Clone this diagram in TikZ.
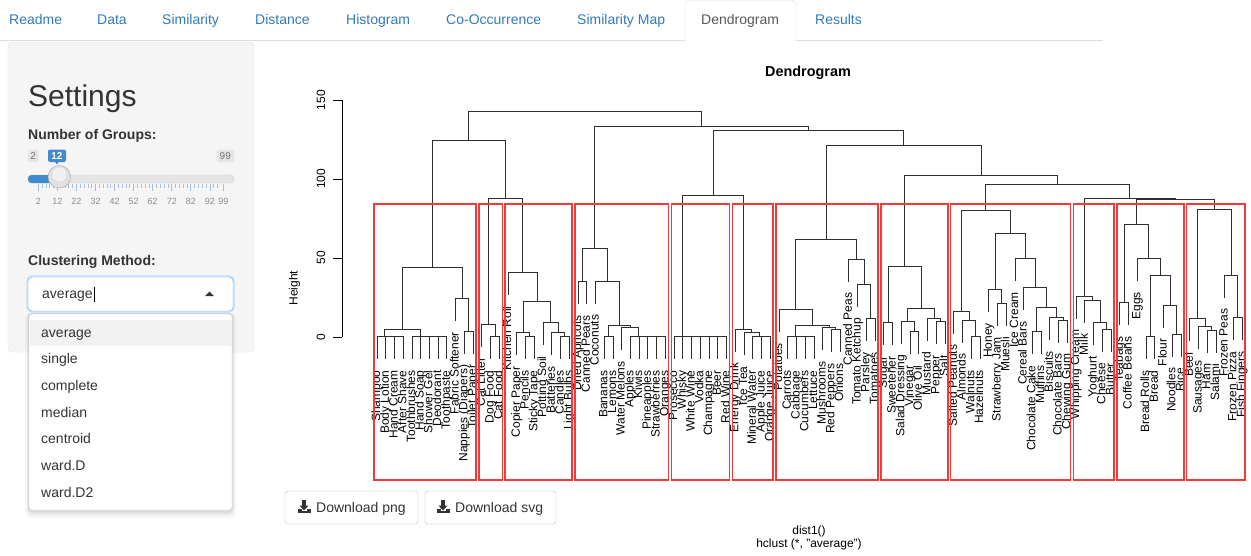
\documentclass[tikz,border=0pt]{standalone}
\usepackage{fontspec}
\setmainfont{Liberation Sans}
\definecolor{linkblue}{HTML}{337AB7}
\definecolor{navgray}{HTML}{DDDDDD}
\definecolor{wellbg}{HTML}{F5F5F5}
\definecolor{wellbd}{HTML}{E3E3E3}
\definecolor{txtc}{HTML}{333333}
\definecolor{sliderblue}{HTML}{428BCA}
\definecolor{focusblue}{HTML}{66AFE9}
\definecolor{rectred}{HTML}{F23A3A}
\definecolor{tickc}{HTML}{A9BCD6}
\newcommand\fsz[1]{\fontsize{#1}{#1}\selectfont}
\newif\ifisleaf
\newcommand\defleaf[2]{%
  \pgfmathsetmacro\tmpx{377+8.739*(#1-1)}%
  \expandafter\xdef\csname dX#1\endcsname{\tmpx}%
  \expandafter\gdef\csname dH#1\endcsname{-1}%
  \expandafter\gdef\csname dN#1\endcsname{#2}}
\newcommand\botof[3]{%
  \edef\tmph{\csname dH#1\endcsname}%
  \ifdim\tmph pt<0pt \isleaftrue\else\isleaffalse\fi
  \ifisleaf
    \pgfmathsetmacro#3{#2-14.3}%
    \edef\tmpxx{\csname dX#1\endcsname}%
    \node[leaflbl] at (\tmpxx,{336.7-1.578*(#3)+11}) {\csname dN#1\endcsname};%
  \else
    \let#3\tmph
  \fi}
\newcommand\mrg[4]{%
  \botof{#2}{#4}\bA
  \botof{#3}{#4}\bB
  \edef\xa{\csname dX#2\endcsname}%
  \edef\xb{\csname dX#3\endcsname}%
  \draw[dline] (\xa,{336.7-1.578*(\bA)}) |- (\xb,{336.7-1.578*(#4)}) -- (\xb,{336.7-1.578*(\bB)});
  \pgfmathsetmacro\tmpx{(\xa+\xb)/2}%
  \expandafter\xdef\csname dX#1\endcsname{\tmpx}%
  \expandafter\xdef\csname dH#1\endcsname{#4}}
\newcommand\dlicon[2]{%
  \fill[txtc] ({#1-1.6},{#2-7}) rectangle ({#1+1.6},{#2-1});
  \fill[txtc] ({#1-4.6},{#2-1.5}) -- ({#1+4.6},{#2-1.5}) -- (#1,{#2+3.5}) -- cycle;
  \fill[txtc] ({#1-6.5},{#2+2}) rectangle ({#1-2.5},{#2+5.5});
  \fill[txtc] ({#1+2.5},{#2+2}) rectangle ({#1+6.5},{#2+5.5});
  \fill[txtc] ({#1-6.5},{#2+4}) rectangle ({#1+6.5},{#2+5.5});}
\begin{document}
\begin{tikzpicture}[x=1pt,y=-1pt,
  dline/.style={draw=black!82, line width=0.9pt},
  leaflbl/.style={rotate=90, anchor=east, inner sep=0pt, font=\fsz{12}, text height=8.6pt, text depth=2.5pt},
  rbox/.style={draw=rectred, line width=1.3pt},
  ui/.style={inner sep=0pt, anchor=base west, font=\fsz{14}, text=txtc},
  tab/.style={inner sep=0pt, anchor=base west, font=\fsz{14}, text=linkblue},
  rlab/.style={inner sep=0pt, font=\fsz{12}}]
\fill[white] (0,0) rectangle (1251,555);
\useasboundingbox (0,0) rectangle (1251,555);
% ---------- tabs
\draw[navgray] (0,40.5) -- (685,40.5);
\draw[navgray] (796,40.5) -- (1103,40.5);
\draw[navgray, fill=white, rounded corners=4pt] (685,40.5) -- (685,0.5) -- (796,0.5) -- (796,40.5);
\node[tab] (t1) at (9,24) {Readme};
\node[tab] (t2) at (97,24) {Data};
\node[tab] (t3) at (162,24) {Similarity};
\node[tab] (t4) at (255,24) {Distance};
\node[tab] (t5) at (346,24) {Histogram};
\node[tab] (t6) at (446,24) {Co-Occurrence};
\node[tab] (t7) at (577,24) {Similarity Map};
\node[tab, text=black!65] (t8) at (701,24) {Dendrogram};
\node[tab] (t9) at (815,24) {Results};
% ---------- settings well
\draw[wellbd, fill=wellbg, rounded corners=4pt] (8,42) rectangle (254,352);
\node[ui, font=\fsz{30}] (set) at (28,106.5) {Settings};
\node[ui, font=\bfseries\fsz{14}] (nog) at (28,139.5) {Number of Groups:};
% slider labels
\fill[black!10, rounded corners=2pt] (28,149.5) rectangle (38.5,162);
\node[inner sep=0pt, font=\fsz{10}, text=black!55] (smin) at (33.2,156) {2};
\fill[sliderblue, rounded corners=2pt] (48,149.5) rectangle (66,162);
\fill[sliderblue] (55,161.5) -- (59,161.5) -- (57,164.5) -- cycle;
\node[inner sep=0pt, font=\bfseries\fsz{10}, text=white] (scur) at (57,156) {12};
\fill[black!10, rounded corners=2pt] (216.5,149.5) rectangle (234,162);
\node[inner sep=0pt, font=\fsz{10}, text=black!55] (smax) at (225.3,156) {99};
% track
\draw[black!20, fill=black!10, rounded corners=3.5pt] (28,175) rectangle (234,183);
\fill[sliderblue, rounded corners=3.5pt] (28,175) rectangle (60,183);
% grid
\foreach \v in {2,12,22,32,42,52,62,72,82,92,99}{
  \draw[tickc, line width=0.8pt] ({38.3+(\v-2)*1.907},183.5) -- ++(0,7.5);
  \node[inner sep=0pt, font=\fsz{9}, text=black!45] at ({38.3+(\v-2)*1.907},201.5) {\v};}
\foreach \m in {2,12,22,32,42,52,62,72,82}{
  \foreach \k in {2,4,6,8}{
    \draw[tickc, line width=0.7pt] ({38.3+(\m+\k-2)*1.907},183.5) -- ++(0,4);}}
\foreach \v in {94,96}{\draw[tickc, line width=0.7pt] ({38.3+(\v-2)*1.907},183.5) -- ++(0,4);}
% handle
\draw[black!35, fill=black!12] (59.3,176.8) circle (11.3);
\fill[black!6] (59.3,174.5) circle (7);
\node[ui, font=\bfseries\fsz{14}] (cm) at (28,265) {Clustering Method:};
% select box
\draw[focusblue!35, line width=3.5pt, rounded corners=4pt] (28,277) rectangle (233,311);
\draw[focusblue, fill=white, rounded corners=4pt] (28,277) rectangle (233,311);
\node[ui] (selv) at (42,298.5) {average};
\draw[black, line width=0.6pt] (93.8,286.5) -- (93.8,302);
\fill[txtc] (205,296) -- (214,296) -- (209.5,291.5) -- cycle;
% dropdown
\fill[black, opacity=0.04, rounded corners=6pt] (25,313) rectangle (236,518);
\fill[black, opacity=0.05, rounded corners=5pt] (27,313) rectangle (234,515);
\fill[black, opacity=0.06, rounded corners=4pt] (28,313) rectangle (233,512.5);
\draw[black!18, fill=white, rounded corners=3pt] (29,314) rectangle (232,510);
\fill[black!5] (29.5,319.5) rectangle (231.5,346);
\node[ui] (o1) at (41,337) {average};
\node[ui] (o2) at (41,363.7) {single};
\node[ui] (o3) at (41,390.3) {complete};
\node[ui] (o4) at (41,417) {median};
\node[ui] (o5) at (41,443.7) {centroid};
\node[ui] (o6) at (41,470.3) {ward.D};
\node[ui] (o7) at (41,497) {ward.D2};
% ---------- buttons
\draw[black!25, fill=white, rounded corners=3pt] (285,491) rectangle (418,524);
\dlicon{304}{507}
\node[ui] (b1) at (316,512.5) {Download png};
\draw[black!25, fill=white, rounded corners=3pt] (425,491) rectangle (556,524);
\dlicon{443}{507}
\node[ui] (b2) at (455,512.5) {Download svg};
% ---------- plot texts
\node[inner sep=0pt, anchor=base, font=\bfseries\fsz{14.4}] (title) at (808,76) {Dendrogram};
\node[rlab, anchor=base] (xl1) at (809,534) {dist1()};
\node[rlab, anchor=base] (xl2) at (809,547.5) {hclust (*, "average")};
\node[rlab, rotate=90] (ylab) at (294.5,288) {Height};
\draw[black] (341.7,100) -- (341.7,336.7);
\foreach \v in {0,50,100,150}{
  \draw[black] (341.7,{336.7-1.578*\v}) -- (333.3,{336.7-1.578*\v});
  \node[rlab, rotate=90] at (321,{336.7-1.578*\v}) {\v};}
% ---------- leaves
\defleaf{1}{Shampoo}\defleaf{2}{Body Lotion}\defleaf{3}{Hand Cream}\defleaf{4}{After Shave}
\defleaf{5}{Toothbrushes}\defleaf{6}{Hand Soap}\defleaf{7}{Shower Gel}\defleaf{8}{Deodorant}
\defleaf{9}{Toothpaste}\defleaf{10}{Fabric Softener}\defleaf{11}{Nappies (Diapers)}\defleaf{12}{Toilet Paper}
\defleaf{13}{Cat Litter}\defleaf{14}{Dog Food}\defleaf{15}{Cat Food}
\defleaf{16}{Kitchen Roll}\defleaf{17}{Copier Paper}\defleaf{18}{Pencils}\defleaf{19}{Sticky Tape}
\defleaf{20}{Potting Soil}\defleaf{21}{Batteries}\defleaf{22}{Candles}\defleaf{23}{Light Bulbs}
\defleaf{24}{Dried Apricots}\defleaf{25}{Canned Pears}\defleaf{26}{Coconuts}\defleaf{27}{Bananas}
\defleaf{28}{Lemons}\defleaf{29}{Water Melons}\defleaf{30}{Apples}\defleaf{31}{Kiwis}
\defleaf{32}{Pineapples}\defleaf{33}{Strawberries}\defleaf{34}{Oranges}
\defleaf{35}{Prosecco}\defleaf{36}{Whisky}\defleaf{37}{White Wine}\defleaf{38}{Vodka}
\defleaf{39}{Champagne}\defleaf{40}{Beer}\defleaf{41}{Red Wine}
\defleaf{42}{Energy Drink}\defleaf{43}{Ice Tea}\defleaf{44}{Mineral Water}\defleaf{45}{Apple Juice}\defleaf{46}{Orange Juice}
\defleaf{47}{Potatoes}\defleaf{48}{Carrots}\defleaf{49}{Cabbage}\defleaf{50}{Cucumbers}
\defleaf{51}{Lettuce}\defleaf{52}{Mushrooms}\defleaf{53}{Red Peppers}\defleaf{54}{Onions}
\defleaf{55}{Canned Peas}\defleaf{56}{Tomato Ketchup}\defleaf{57}{Parsley}\defleaf{58}{Tomatoes}
\defleaf{59}{Sugar}\defleaf{60}{Sweetener}\defleaf{61}{Salad Dressing}\defleaf{62}{Vinegar}
\defleaf{63}{Olive Oil}\defleaf{64}{Mustard}\defleaf{65}{Pepper}\defleaf{66}{Salt}
\defleaf{67}{Salted Peanuts}\defleaf{68}{Almonds}\defleaf{69}{Walnuts}\defleaf{70}{Hazelnuts}
\defleaf{71}{Honey}\defleaf{72}{Strawberry Jam}\defleaf{73}{Muesli}\defleaf{74}{Ice Cream}
\defleaf{75}{Cereal Bars}\defleaf{76}{Chocolate Cake}\defleaf{77}{Muffins}\defleaf{78}{Biscuits}
\defleaf{79}{Chocolate Bars}\defleaf{80}{Chewing Gum}
\defleaf{81}{Whipping Cream}\defleaf{82}{Milk}\defleaf{83}{Yoghurt}\defleaf{84}{Cheese}\defleaf{85}{Butter}
\defleaf{86}{Teabags}\defleaf{87}{Coffee Beans}\defleaf{88}{Eggs}\defleaf{89}{Bread Rolls}
\defleaf{90}{Bread}\defleaf{91}{Flour}\defleaf{92}{Noodles}\defleaf{93}{Rice}
\defleaf{94}{Beef}\defleaf{95}{Sausages}\defleaf{96}{Ham}\defleaf{97}{Salami}
\defleaf{98}{Frozen Peas}\defleaf{99}{Frozen Pizza}\defleaf{100}{Fish Fingers}
% ---------- merges
\mrg{a1}{3}{4}{0}\mrg{a2}{2}{a1}{0}\mrg{a3}{1}{a2}{0}
\mrg{a4}{8}{9}{0}\mrg{a5}{7}{a4}{0}\mrg{a6}{6}{a5}{0}\mrg{a7}{5}{a6}{0}
\mrg{a8}{a3}{a7}{4.9}\mrg{a9}{11}{12}{3.6}\mrg{a10}{10}{a9}{24.3}\mrg{G1}{a8}{a10}{43.7}
\mrg{b1}{14}{15}{0}\mrg{G2}{13}{b1}{8}
\mrg{c1}{18}{19}{0}\mrg{c2}{17}{c1}{2.5}\mrg{c3}{22}{23}{0}\mrg{c4}{21}{c3}{2.5}
\mrg{c5}{20}{c4}{8.9}\mrg{c6}{c2}{c5}{22.2}\mrg{G3}{16}{c6}{40.6}
\mrg{G23}{G2}{G3}{87.7}\mrg{L}{G1}{G23}{124.2}
\mrg{d1}{24}{25}{34.8}\mrg{d2}{33}{34}{0}\mrg{d3}{32}{d2}{0}\mrg{d4}{31}{d3}{0}\mrg{d5}{30}{d4}{0}
\mrg{d6}{29}{d5}{5.7}\mrg{d7}{27}{28}{0}\mrg{d8}{d7}{d6}{7.4}\mrg{d9}{26}{d8}{35.3}\mrg{G4}{d1}{d9}{56}
\mrg{e1}{40}{41}{0}\mrg{e2}{39}{e1}{0}\mrg{e3}{38}{e2}{0}\mrg{e4}{37}{e3}{0}\mrg{e5}{36}{e4}{0}\mrg{G5}{35}{e5}{0}
\mrg{f1}{45}{46}{0}\mrg{f2}{44}{f1}{0}\mrg{f3}{43}{f2}{2.5}\mrg{G6}{42}{f3}{4.9}
\mrg{G56}{G5}{G6}{89.8}
\mrg{g1}{50}{51}{0}\mrg{g2}{49}{g1}{0}\mrg{g3}{48}{g2}{0}\mrg{g4}{53}{54}{4.3}\mrg{g5}{52}{g4}{5.7}
\mrg{g6}{g3}{g5}{7.4}\mrg{g7}{47}{g6}{17.4}\mrg{g8}{57}{58}{11.7}\mrg{g9}{56}{g8}{33.2}
\mrg{g10}{55}{g9}{49.2}\mrg{G7}{g7}{g10}{61.9}
\mrg{h1}{59}{60}{8.9}\mrg{h2}{62}{63}{3.2}\mrg{h3}{61}{h2}{9.9}\mrg{h4}{65}{66}{9.5}
\mrg{h5}{64}{h4}{11.7}\mrg{h6}{h3}{h5}{18}\mrg{G8}{h1}{h6}{44.4}
\mrg{i1}{69}{70}{0}\mrg{i2}{68}{i1}{10.6}\mrg{i3}{67}{i2}{16.3}\mrg{i4}{72}{73}{21.2}\mrg{i5}{71}{i4}{30}
\mrg{i6}{76}{77}{3.2}\mrg{i7}{79}{80}{10.6}\mrg{i8}{78}{i7}{12.3}\mrg{i9}{i6}{i8}{18.6}
\mrg{i10}{75}{i9}{31}\mrg{i11}{74}{i10}{49.7}\mrg{i12}{i5}{i11}{65.5}\mrg{G9}{i3}{i12}{79.7}
\mrg{j1}{84}{85}{4.7}\mrg{j2}{83}{j1}{8.9}\mrg{j3}{82}{j2}{23.2}\mrg{G10}{81}{j3}{25.8}
\mrg{k1}{86}{87}{21.5}\mrg{k2}{89}{90}{0}\mrg{k3}{92}{93}{1.7}\mrg{k4}{91}{k3}{20.1}
\mrg{k5}{k2}{k4}{39.1}\mrg{k6}{88}{k5}{49.7}\mrg{G11}{k1}{k6}{71.2}
\mrg{l1}{96}{97}{4.2}\mrg{l2}{95}{l1}{6.4}\mrg{l3}{94}{l2}{11.7}\mrg{l4}{99}{100}{12}
\mrg{l5}{98}{l4}{39.1}\mrg{G12}{l3}{l5}{80.9}
\mrg{U1}{G11}{G12}{87.1}\mrg{U2}{G10}{U1}{87.7}\mrg{U3}{G9}{U2}{96.6}\mrg{U4}{G8}{U3}{102}
\mrg{U5}{G7}{U4}{121.5}\mrg{U6}{G56}{U5}{130.5}\mrg{U7}{G4}{U6}{133.5}\mrg{RT}{L}{U7}{142.6}
% ---------- cluster rectangles
\foreach \a/\b in {1/12,13/15,16/23,24/34,35/41,42/46,47/58,59/66,67/80,81/85,86/93,94/100}{
  \draw[rbox] ({377+8.739*(\a-1.34)},204.1) rectangle ({377+8.739*(\b-0.67)},480);}
\end{tikzpicture}
\end{document}
